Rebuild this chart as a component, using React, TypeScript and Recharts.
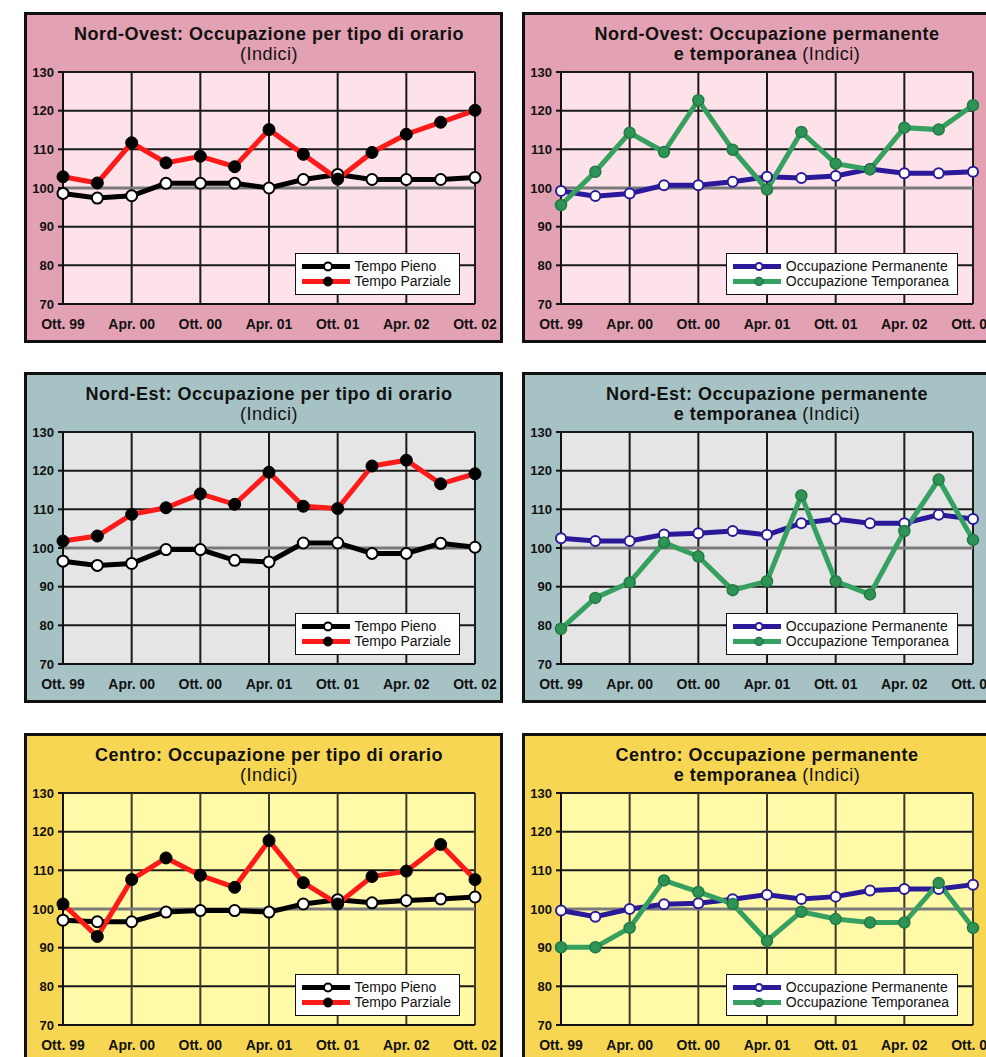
import React from "react";
import {
  LineChart,
  Line,
  XAxis,
  YAxis,
  CartesianGrid,
  Legend,
  ReferenceLine,
} from "recharts";

// trimestri, da ottobre 1999 a ottobre 2002
const periods = [
  "Ott. 99", "Gen. 00", "Apr. 00", "Lug. 00", "Ott. 00", "Gen. 01", "Apr. 01",
  "Lug. 01", "Ott. 01", "Gen. 02", "Apr. 02", "Lug. 02", "Ott. 02",
];
const yTicks = [70, 80, 90, 100, 110, 120, 130];

// Nord-Ovest
const noPieno = [98.6, 97.4, 98.0, 101.2, 101.2, 101.2, 100.0, 102.2, 103.5, 102.2, 102.2, 102.2, 102.7];
const noParziale = [102.9, 101.3, 111.7, 106.5, 108.2, 105.5, 115.1, 108.7, 102.3, 109.2, 113.9, 117.0, 120.1];
const noPermanente = [99.2, 97.9, 98.6, 100.7, 100.7, 101.6, 102.9, 102.6, 103.1, 104.9, 103.8, 103.8, 104.2];
const noTemporanea = [95.6, 104.2, 114.3, 109.3, 122.7, 109.9, 99.6, 114.5, 106.3, 104.8, 115.6, 115.1, 121.4];

// Nord-Est
const nePieno = [96.6, 95.5, 96.0, 99.6, 99.6, 96.8, 96.4, 101.3, 101.3, 98.6, 98.6, 101.2, 100.2];
const neParziale = [101.8, 103.1, 108.7, 110.4, 114.0, 111.3, 119.6, 110.8, 110.2, 121.2, 122.7, 116.6, 119.2];
const nePermanente = [102.5, 101.8, 101.8, 103.5, 103.8, 104.4, 103.4, 106.4, 107.5, 106.4, 106.4, 108.6, 107.5];
const neTemporanea = [79.1, 87.1, 91.1, 101.4, 97.8, 89.1, 91.4, 113.6, 91.4, 88.0, 104.4, 117.7, 102.1];

// Centro
const cePieno = [97.1, 96.7, 96.7, 99.2, 99.6, 99.6, 99.2, 101.3, 102.4, 101.6, 102.2, 102.6, 103.1];
const ceParziale = [101.3, 92.9, 107.6, 113.2, 108.7, 105.6, 117.7, 106.8, 101.3, 108.4, 109.8, 116.7, 107.6];
const cePermanente = [99.6, 98.0, 100.0, 101.2, 101.5, 102.5, 103.7, 102.6, 103.2, 104.8, 105.2, 105.2, 106.3];
const ceTemporanea = [90.1, 90.1, 95.1, 107.4, 104.4, 101.3, 91.8, 99.3, 97.4, 96.5, 96.5, 106.7, 95.1];

const FONT = "'Liberation Sans', Arial, Helvetica, sans-serif";

const STYLES: Record<string, any> = {
  pieno: { name: "Tempo Pieno", stroke: "#000000", dot: { r: 5.5, fill: "#ffffff", stroke: "#000000", strokeWidth: 2 } },
  parziale: { name: "Tempo Parziale", stroke: "#ff1a1a", dot: { r: 6, fill: "#000000", stroke: "#000000", strokeWidth: 1 } },
  permanente: { name: "Occupazione Permanente", stroke: "#2a1a9a", dot: { r: 5, fill: "#ffffff", stroke: "#2a1a9a", strokeWidth: 2 } },
  temporanea: { name: "Occupazione Temporanea", stroke: "#35a060", dot: { r: 5.5, fill: "#2e9456", stroke: "#237a45", strokeWidth: 1.5 } },
};

const rows = (aKey: string, a: number[], bKey: string, b: number[]) =>
  periods.map((p, i) => ({ period: p, [aKey]: a[i], [bKey]: b[i] }));

const THEMES = {
  pink: { outer: "#e3a2b3", inner: "#fde2ea", vgrid: "#1a1a1a" },
  teal: { outer: "#a7c2c4", inner: "#e5e5e5", vgrid: "#1a1a1a" },
  yellow: { outer: "#f7d653", inner: "#fff9a8", vgrid: "#3a3a2a" },
};

const PANELS = [
  { x: 24, y: 12, theme: THEMES.pink, line1: "Nord-Ovest: Occupazione per tipo di orario", bold2: "", line2: "(Indici)", keys: ["pieno", "parziale"], data: rows("pieno", noPieno, "parziale", noParziale) },
  { x: 522, y: 12, theme: THEMES.pink, line1: "Nord-Ovest: Occupazione permanente", bold2: "e temporanea ", line2: "(Indici)", keys: ["permanente", "temporanea"], data: rows("permanente", noPermanente, "temporanea", noTemporanea) },
  { x: 24, y: 372, theme: THEMES.teal, line1: "Nord-Est: Occupazione per tipo di orario", bold2: "", line2: "(Indici)", keys: ["pieno", "parziale"], data: rows("pieno", nePieno, "parziale", neParziale) },
  { x: 522, y: 372, theme: THEMES.teal, line1: "Nord-Est: Occupazione permanente", bold2: "e temporanea ", line2: "(Indici)", keys: ["permanente", "temporanea"], data: rows("permanente", nePermanente, "temporanea", neTemporanea) },
  { x: 24, y: 733, theme: THEMES.yellow, line1: "Centro: Occupazione per tipo di orario", bold2: "", line2: "(Indici)", keys: ["pieno", "parziale"], data: rows("pieno", cePieno, "parziale", ceParziale) },
  { x: 522, y: 733, theme: THEMES.yellow, line1: "Centro: Occupazione permanente", bold2: "e temporanea ", line2: "(Indici)", keys: ["permanente", "temporanea"], data: rows("permanente", cePermanente, "temporanea", ceTemporanea) },
];

const PANEL_W = 479;
const PANEL_H = 331;
const CHART_W = 473;
const CHART_H = 325;
const MARGIN = { top: 57, right: 25, left: 0, bottom: 6 };

function LegendBox({ payload, order }: any) {
  const items = [...(payload ?? [])].sort(
    (a: any, b: any) => order.indexOf(a.dataKey) - order.indexOf(b.dataKey)
  );
  return (
    <div
      style={{
        background: "#ffffff",
        border: "1.5px solid #111",
        padding: "5px 8px 5px 6px",
        fontFamily: FONT,
        fontSize: 14,
        lineHeight: "15px",
        color: "#111",
      }}
    >
      {items.map((e: any) => {
        const s = STYLES[e.dataKey];
        return (
          <div key={e.dataKey} style={{ display: "flex", alignItems: "center" }}>
            <svg width={48} height={15}>
              <line x1={0} y1={7.5} x2={48} y2={7.5} stroke={s.stroke} strokeWidth={5} />
              <circle cx={26} cy={7.5} r={s.dot.r - 1.5} fill={s.dot.fill} stroke={s.dot.stroke} strokeWidth={s.dot.strokeWidth} />
            </svg>
            <span style={{ marginLeft: 5, whiteSpace: "nowrap" }}>{s.name}</span>
          </div>
        );
      })}
    </div>
  );
}

function Panel({ p }: { p: (typeof PANELS)[number] }) {
  return (
    <div
      style={{
        position: "absolute",
        left: p.x,
        top: p.y,
        width: PANEL_W,
        height: PANEL_H,
        boxSizing: "border-box",
        border: "3px solid #111",
        background: p.theme.outer,
      }}
    >
      <div
        style={{
          position: "absolute",
          left: 36,
          width: CHART_W - 36 - MARGIN.right,
          top: 9,
          textAlign: "center",
          fontFamily: FONT,
          fontSize: 18,
          lineHeight: "20px",
          letterSpacing: 0.5,
          color: "#111",
          whiteSpace: "nowrap",
          zIndex: 2,
        }}
      >
        <div style={{ fontWeight: 700 }}>{p.line1}</div>
        <div>
          {p.bold2 && <span style={{ fontWeight: 700 }}>{p.bold2}</span>}
          <span style={{ fontWeight: 400 }}>{p.line2}</span>
        </div>
      </div>
      <LineChart width={CHART_W} height={CHART_H} data={p.data} margin={MARGIN}>
        <CartesianGrid fill={p.theme.inner} stroke="#1a1a1a" strokeWidth={2} vertical={false} />
        <CartesianGrid stroke={p.theme.vgrid} strokeWidth={2} horizontal={false} />
        <ReferenceLine y={100} stroke="#7a7a7a" strokeWidth={3} />
        <XAxis
          dataKey="period"
          scale="point"
          interval={1}
          tickLine={false}
          tickSize={6}
          tickMargin={9}
          height={30}
          axisLine={{ stroke: "#111", strokeWidth: 2 }}
          tick={{ fill: "#111", fontSize: 14, fontWeight: 700, fontFamily: FONT }}
        />
        <YAxis
          domain={[70, 130]}
          ticks={yTicks}
          width={36}
          tickSize={5}
          tickMargin={4}
          tickLine={{ stroke: "#111", strokeWidth: 2 }}
          axisLine={{ stroke: "#111", strokeWidth: 2 }}
          tick={{ fill: "#111", fontSize: 13, fontWeight: 700, fontFamily: FONT }}
        />
        {p.keys.map((k) => (
          <Line
            key={k}
            dataKey={k}
            name={STYLES[k].name}
            stroke={STYLES[k].stroke}
            strokeWidth={5}
            dot={STYLES[k].dot}
            activeDot={false}
            isAnimationActive={false}
          />
        ))}
        <Legend
          layout="vertical"
          align="center"
          verticalAlign="middle"
          content={(props: any) => <LegendBox {...props} order={p.keys} />}
          wrapperStyle={{ left: "auto", top: "auto", right: 40, bottom: 45, width: "auto" }}
        />
      </LineChart>
    </div>
  );
}

export default function App() {
  return (
    <div
      style={{
        position: "fixed",
        left: 0,
        top: 0,
        width: 986,
        height: 1057,
        overflow: "hidden",
        background: "#ffffff",
      }}
    >
      {PANELS.map((p, i) => (
        <Panel key={i} p={p} />
      ))}
    </div>
  );
}
